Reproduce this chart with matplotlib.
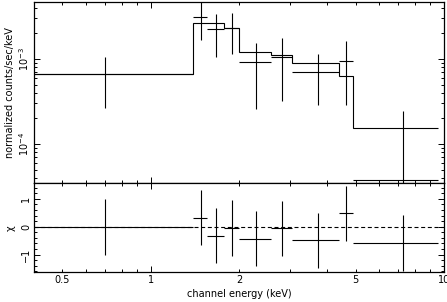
import matplotlib
matplotlib.use("Agg")
import matplotlib.pyplot as plt
from matplotlib.ticker import LogLocator, FixedLocator, FixedFormatter, MultipleLocator, NullFormatter

# channel edges (keV) and model histogram (counts/sec/keV)
model_edges = [0.30, 1.40, 1.78, 2.00, 2.57, 3.03, 4.39, 4.92, 9.56]
model_vals = [6.65e-4, 2.63e-3, 2.32e-3, 1.20e-3, 1.12e-3, 8.9e-4, 6.3e-4, 1.56e-4]

# data points
energy = [0.70, 1.48, 1.67, 1.89, 2.285, 2.80, 3.71, 4.655, 7.24]
e_lo = [0.00, 1.40, 1.56, 1.78, 2.00, 2.57, 3.03, 4.39, 4.92]
e_hi = [1.40, 1.56, 1.78, 2.00, 2.57, 3.03, 4.39, 4.92, 9.56]
counts = [6.6e-4, 3.15e-3, 2.25e-3, 2.30e-3, 9.14e-4, 1.06e-3, 6.97e-4, 9.55e-4, 3.77e-5]
c_hi = [1.06e-3, 5.0e-3, 3.39e-3, 3.5e-3, 1.56e-3, 1.75e-3, 1.14e-3, 1.64e-3, 2.44e-4]
c_lo = [2.67e-4, 1.67e-3, 1.06e-3, 1.14e-3, 2.58e-4, 3.2e-4, 2.88e-4, 2.88e-4, 1e-6]

# residuals (chi)
chi = [0.0, 0.33, -0.32, -0.04, -0.43, -0.06, -0.49, 0.48, -0.58]
chi_err = [1.0, 1.0, 1.0, 1.0, 1.0, 1.0, 1.0, 1.0, 1.0]

plt.rcParams['font.family'] = ['DejaVu Sans']
plt.rcParams['font.size'] = 7

fig = plt.figure(figsize=(4.47, 3.02), dpi=100)
ax1 = fig.add_axes([0.0761, 0.393, 0.9166, 0.6014])
ax2 = fig.add_axes([0.0761, 0.0983, 0.9166, 0.2947], sharex=ax1)

lw = 0.8
xerr = [[e - l for e, l in zip(energy, e_lo)], [h - e for e, h in zip(energy, e_hi)]]

ax1.stairs(model_vals, model_edges, baseline=None, color='black', lw=lw)
yerr = [[c - l for c, l in zip(counts, c_lo)], [h - c for c, h in zip(counts, c_hi)]]
ax1.errorbar(energy, counts, xerr=xerr, yerr=yerr, fmt='none', ecolor='black', elinewidth=lw, capsize=0)
ax1.set_xscale('log')
ax1.set_yscale('log')
ax1.set_xlim(0.4, 10)
ax1.set_ylim(3.45e-5, 4.72e-3)
ax1.set_ylabel('normalized counts/sec/keV', labelpad=2)
ax1.yaxis.set_major_locator(LogLocator(base=10, numticks=10))
ax1.yaxis.set_minor_locator(LogLocator(base=10, subs=range(2, 10), numticks=10))
ax1.yaxis.set_minor_formatter(NullFormatter())

ax2.errorbar(energy, chi, xerr=xerr, yerr=chi_err, fmt='none', ecolor='black', elinewidth=lw, capsize=0)
zl = ax2.axhline(0, color='black', lw=lw, ls='--')
zl.set_dashes((3.6, 2.4))
ax2.set_ylim(-1.64, 1.56)
ax2.set_ylabel('χ', labelpad=4)
ax2.set_xlabel('channel energy (keV)', labelpad=3)
ax2.yaxis.set_major_locator(FixedLocator([-1, 0, 1]))
ax2.yaxis.set_major_formatter(FixedFormatter(['−1', '0', '1']))
ax2.yaxis.set_minor_locator(MultipleLocator(0.2))

ax2.xaxis.set_major_locator(FixedLocator([1, 10]))
ax2.xaxis.set_major_formatter(FixedFormatter(['1', '10']))
minor_x = [0.4, 0.5, 0.6, 0.7, 0.8, 0.9, 2, 3, 4, 5, 6, 7, 8, 9]
minor_lbl = ['', '0.5', '', '', '', '', '2', '', '', '5', '', '', '', '']
ax2.xaxis.set_minor_locator(FixedLocator(minor_x))
ax2.xaxis.set_minor_formatter(FixedFormatter(minor_lbl))

for ax in (ax1, ax2):
    ax.tick_params(which='both', direction='in', top=True, right=True, width=0.7, pad=2)
    ax.tick_params(which='major', length=4)
    ax.tick_params(which='minor', length=2.2)
    ax.tick_params(axis='y', labelrotation=90)
    for lbl in ax.get_yticklabels():
        lbl.set_va('center')
    for s in ax.spines.values():
        s.set_linewidth(0.9)

ax1.tick_params(axis='x', which='both', labelbottom=False)

fig.savefig('out.png', dpi=100)
